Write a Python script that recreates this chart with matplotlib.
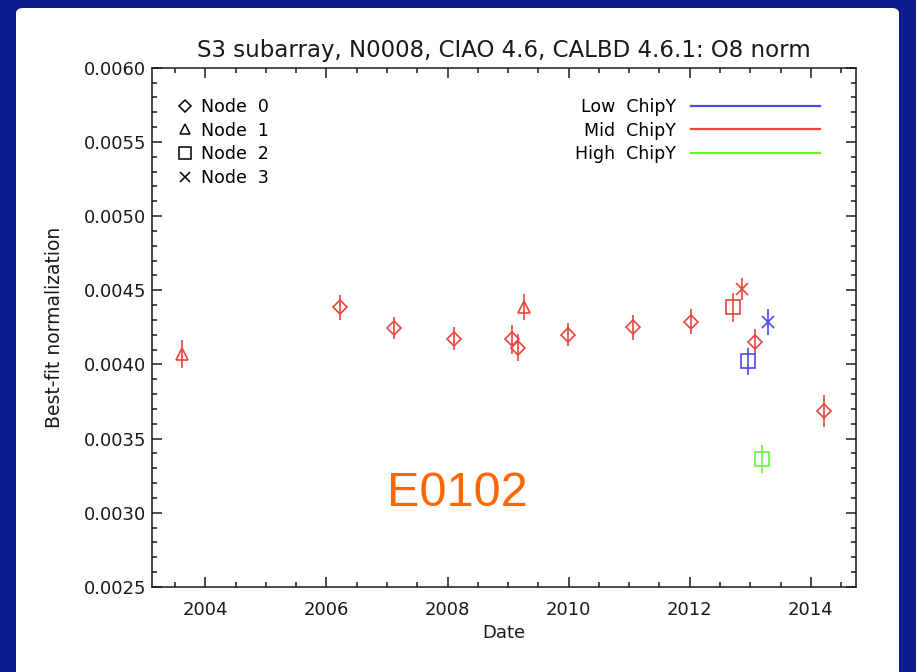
import matplotlib
matplotlib.use("Agg")
import matplotlib.pyplot as plt
from matplotlib.lines import Line2D
from matplotlib.patches import FancyBboxPatch
from matplotlib.ticker import MultipleLocator, FormatStrFormatter

# E0102 best-fit normalization per observation
date = [2003.61, 2006.22, 2007.11, 2008.10, 2009.07, 2009.17, 2009.27, 2009.99,
        2011.07, 2012.02, 2012.72, 2012.86, 2013.07, 2012.96, 2013.29, 2013.19,
        2014.22]
norm = [0.004072, 0.004385, 0.004244, 0.004174, 0.004168, 0.004112, 0.004385,
        0.004201, 0.004250, 0.004289, 0.004385, 0.004508, 0.004150, 0.004020,
        0.004284, 0.003362, 0.003685]
err = [0.000093, 0.000086, 0.000075, 0.000076, 0.000099, 0.000091, 0.000087,
       0.000080, 0.000086, 0.000084, 0.000096, 0.000076, 0.000086, 0.000093,
       0.000089, 0.000093, 0.000108]
node = [1, 0, 0, 0, 0, 0, 1, 0, 0, 0, 2, 3, 0, 2, 3, 2, 0]
chipy = ["Mid", "Mid", "Mid", "Mid", "Mid", "Mid", "Mid", "Mid", "Mid", "Mid",
         "Mid", "Mid", "Mid", "Low", "Low", "High", "Mid"]

chip_names = ["Low", "Mid", "High"]
chip_colors = {"Low": "#4a4af5", "Mid": "#e8453c", "High": "#6ef03c"}
node_markers = {0: "D", 1: "^", 2: "s", 3: "x"}
node_sizes = {0: 6.9, 1: 8.8, 2: 9.4, 3: 8.0}

fig = plt.figure(figsize=(9.16, 6.72), dpi=100, facecolor="#0a1c8e")
panel = FancyBboxPatch((16 / 916, -0.05), 883 / 916, 664 / 672 + 0.05,
                       boxstyle="round,pad=0,rounding_size=0.008",
                       transform=fig.transFigure, fc="white", ec="none",
                       zorder=-10)
fig.patches.append(panel)

ax = fig.add_axes([0.1659, 0.1265, 0.7683, 0.7728])
ax.set_facecolor("none")

for i in range(len(date)):
    c = chip_colors[chipy[i]]
    ax.errorbar(date[i], norm[i], yerr=err[i], fmt=node_markers[node[i]],
                ms=node_sizes[node[i]], mfc="none", mec=c, mew=1.2,
                ecolor=c, elinewidth=1.2, capsize=0)

ax.set_xlim(2003.12, 2014.74)
ax.set_ylim(0.0025, 0.0060)
ax.xaxis.set_major_locator(MultipleLocator(2))
ax.xaxis.set_minor_locator(MultipleLocator(0.5))
ax.yaxis.set_major_locator(MultipleLocator(0.0005))
ax.yaxis.set_minor_locator(MultipleLocator(0.0001))
ax.yaxis.set_major_formatter(FormatStrFormatter("%.4f"))
ax.tick_params(which="both", direction="in", top=True, right=True,
               colors="#1a1a1a", labelsize=13, width=1.1)
ax.tick_params(which="major", length=7.5)
ax.tick_params(which="minor", length=3.8)
ax.tick_params(axis="x", pad=10)
ax.tick_params(axis="y", pad=4)
for s in ax.spines.values():
    s.set_linewidth(1.1)
    s.set_color("#1a1a1a")

ax.set_title("S3 subarray, N0008, CIAO 4.6, CALBD 4.6.1: O8 norm",
             fontsize=16.5, pad=8, color="#1a1a1a")
ax.set_xlabel("Date", fontsize=13, color="#1a1a1a", labelpad=4)
ax.set_ylabel("Best-fit normalization", fontsize=13.5, color="#1a1a1a",
              labelpad=14)

node_handles = [Line2D([], [], ls="none", marker=node_markers[n],
                       ms=node_sizes[n] * 0.85, mfc="none", mec="black",
                       mew=1.1) for n in range(4)]
leg1 = ax.legend(node_handles, ["Node  %d" % n for n in range(4)],
                 loc="upper left", bbox_to_anchor=(0.0374, 0.942),
                 frameon=False, fontsize=12.5, handlelength=0.8,
                 handletextpad=0.5, labelspacing=0.33, borderpad=0,
                 borderaxespad=0)
ax.add_artist(leg1)

chip_handles = [Line2D([], [], color=chip_colors[c], lw=1.6) for c in chip_names]
ax.legend(chip_handles, ["%s  ChipY" % c for c in chip_names],
          loc="upper right", bbox_to_anchor=(0.949, 0.942), frameon=False,
          fontsize=12.5, handlelength=7.4, handletextpad=0.9,
          labelspacing=0.33, borderpad=0, borderaxespad=0, markerfirst=False)

fig.text(0.499, 0.266, "E0102", fontsize=35, color="#ff6600",
         family="Liberation Sans", ha="center", va="center")

fig.savefig("out.png", dpi=100, facecolor=fig.get_facecolor())
